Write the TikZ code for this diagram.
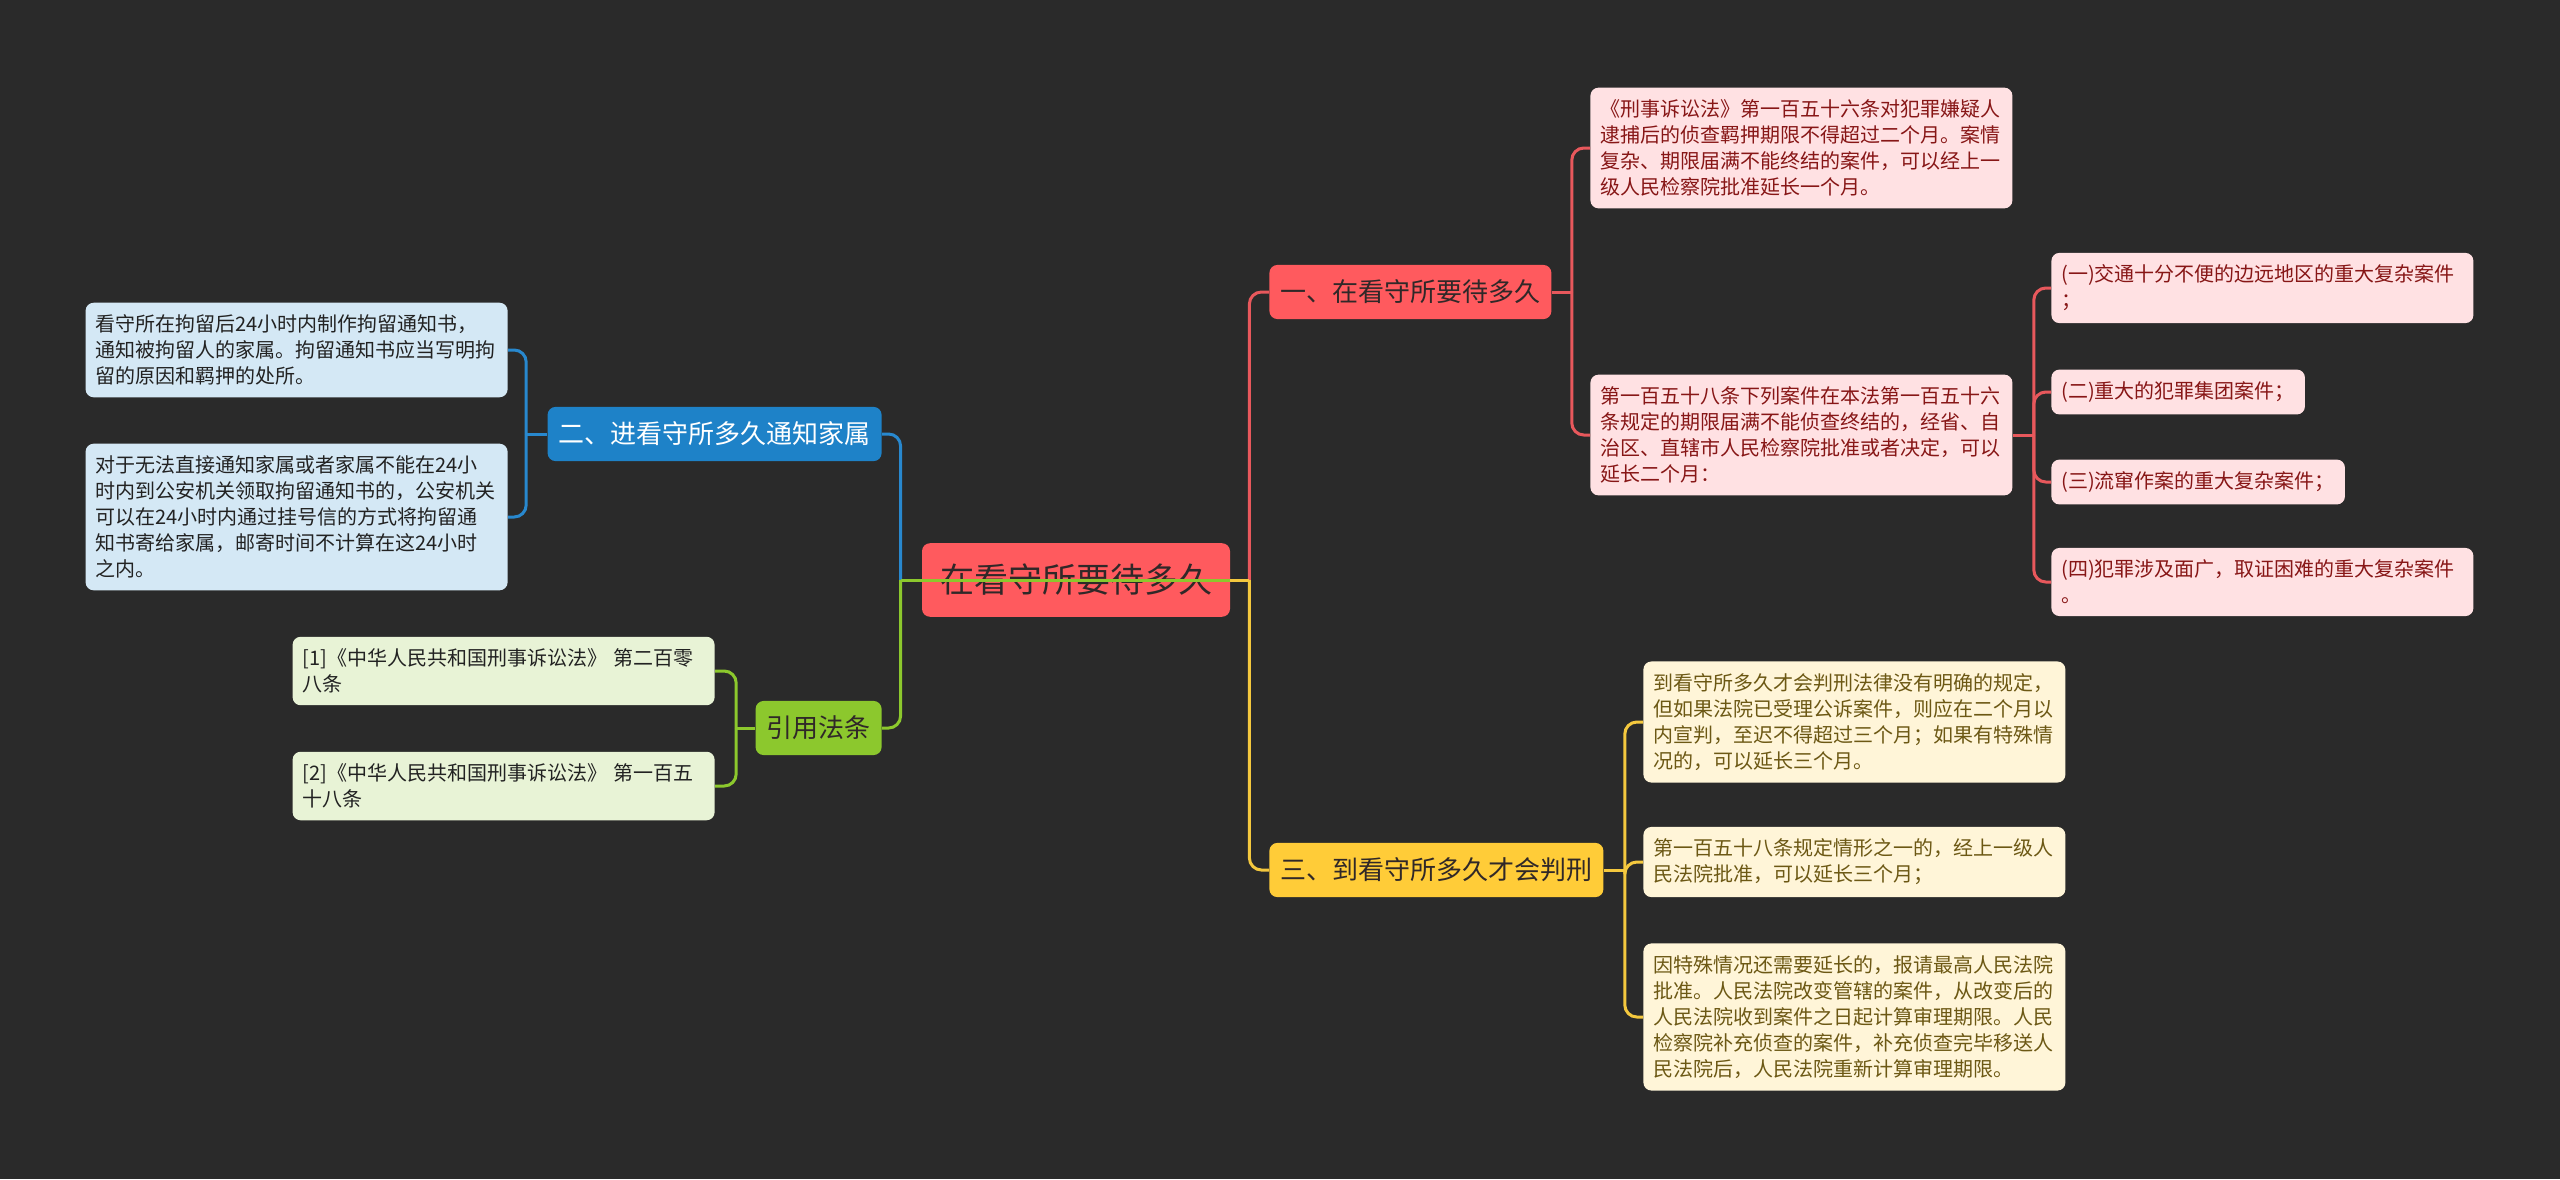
\documentclass[tikz,border=0pt]{standalone}
\usepackage{fontspec}
\setmainfont{Noto Sans CJK SC}
\usetikzlibrary{calc}
\definecolor{MapBack}{RGB}{42,42,42}
\definecolor{MapInk}{RGB}{48,40,40}
\definecolor{MapRed}{RGB}{255,90,94}
\definecolor{MapRedLine}{RGB}{232,88,92}
\definecolor{MapRedLeaf}{RGB}{255,225,227}
\definecolor{MapRedInk}{RGB}{135,22,22}
\definecolor{MapYellow}{RGB}{255,204,56}
\definecolor{MapYellowLine}{RGB}{244,200,62}
\definecolor{MapYellowLeaf}{RGB}{255,245,216}
\definecolor{MapYellowInk}{RGB}{108,88,20}
\definecolor{MapBlue}{RGB}{30,130,200}
\definecolor{MapBlueLine}{RGB}{40,136,206}
\definecolor{MapBlueLeaf}{RGB}{212,232,245}
\definecolor{MapGreen}{RGB}{140,200,45}
\definecolor{MapGreenLine}{RGB}{140,200,45}
\definecolor{MapGreenLeaf}{RGB}{232,243,214}
\definecolor{MapLeafInk}{RGB}{34,34,34}

\begin{document}
\begin{tikzpicture}[
        x=0.5pt,y=-0.5pt,
        hub/.style={fill=MapRed,text=MapInk,rounded corners=4pt,inner xsep=9pt,inner ysep=10.5pt,font=\fontsize{17}{20}\selectfont},
        topic/.style={rounded corners=4pt,inner xsep=5.5pt,inner ysep=7.5pt,font=\fontsize{13}{16}\selectfont},
        leaf/.style={rounded corners=4pt,inner xsep=5pt,inner ysep=6pt,align=left,font=\fontsize{10}{13}\selectfont},
        wide/.style={leaf,text width=201pt},
        redleaf/.style={fill=MapRedLeaf,text=MapRedInk},
        yellowleaf/.style={fill=MapYellowLeaf,text=MapYellowInk},
        blueleaf/.style={fill=MapBlueLeaf,text=MapLeafInk},
        greenleaf/.style={fill=MapGreenLeaf,text=MapLeafInk},
        link/.style={line width=1.5pt,rounded corners=6pt}
      ]
        \fill[MapBack] (0,0) rectangle (2560,1179);
        \useasboundingbox (0,0) rectangle (2560,1179);
        % centre and main topics
        \node[hub] (root) at (1076,580) {在看守所要待多久};
        \node[topic,fill=MapRed,text=MapInk,anchor=west] (stay) at (1269,292) {一、在看守所要待多久};
        \node[topic,fill=MapYellow,text=MapInk,anchor=west] (trial) at (1269,870) {三、到看守所多久才会判刑};
        \node[topic,fill=MapBlue,text=white,anchor=east] (notice) at (882,434) {二、进看守所多久通知家属};
        \node[topic,fill=MapGreen,text=MapInk,anchor=east] (refs) at (882,728) {引用法条};
        % red leaves
        \node[wide,redleaf,anchor=west] (term) at (1590,148) {《刑事诉讼法》第一百五十六条对犯罪嫌疑人\\逮捕后的侦查羁押期限不得超过二个月。案情\\复杂、期限届满不能终结的案件，可以经上一\\级人民检察院批准延长一个月。};
        \node[wide,redleaf,anchor=west] (extend) at (1590,435) {第一百五十八条下列案件在本法第一百五十六\\条规定的期限届满不能侦查终结的，经省、自\\治区、直辖市人民检察院批准或者决定，可以\\延长二个月：};
        \node[wide,redleaf,anchor=west] (case1) at (2051,288) {(一)交通十分不便的边远地区的重大复杂案件\\；};
        \node[leaf,redleaf,anchor=west] (case2) at (2051,392) {(二)重大的犯罪集团案件；};
        \node[leaf,redleaf,anchor=west] (case3) at (2051,482) {(三)流窜作案的重大复杂案件；};
        \node[wide,redleaf,anchor=west] (case4) at (2051,582) {(四)犯罪涉及面广，取证困难的重大复杂案件\\。};
        % yellow leaves
        \node[wide,yellowleaf,anchor=west] (rule) at (1643,722) {到看守所多久才会判刑法律没有明确的规定，\\但如果法院已受理公诉案件，则应在二个月以\\内宣判，至迟不得超过三个月；如果有特殊情\\况的，可以延长三个月。};
        \node[wide,yellowleaf,anchor=west] (upper) at (1643,862) {第一百五十八条规定情形之一的，经上一级人\\民法院批准，可以延长三个月；};
        \node[wide,yellowleaf,anchor=west] (supreme) at (1643,1017) {因特殊情况还需要延长的，报请最高人民法院\\批准。人民法院改变管辖的案件，从改变后的\\人民法院收到案件之日起计算审理期限。人民\\检察院补充侦查的案件，补充侦查完毕移送人\\民法院后，人民法院重新计算审理期限。};
        % blue leaves
        \node[wide,blueleaf,anchor=east] (letter) at (508,350) {看守所在拘留后24小时内制作拘留通知书，\\通知被拘留人的家属。拘留通知书应当写明拘\\留的原因和羁押的处所。};
        \node[wide,blueleaf,anchor=east] (mail) at (508,517) {对于无法直接通知家属或者家属不能在24小\\时内到公安机关领取拘留通知书的，公安机关\\可以在24小时内通过挂号信的方式将拘留通\\知书寄给家属，邮寄时间不计算在这24小时\\之内。};
        % green leaves
        \node[wide,greenleaf,anchor=east] (law1) at (715,671) {[1]《中华人民共和国刑事诉讼法》 第二百零\\八条};
        \node[wide,greenleaf,anchor=east] (law2) at (715,786) {[2]《中华人民共和国刑事诉讼法》 第一百五\\十八条};
        % bus points
        \coordinate (rbus) at ($(root.east)+(19,0)$);
        \coordinate (lbus) at ($(root.west)+(-21,0)$);
        \coordinate (staybus) at ($(stay.east)+(20,0)$);
        \coordinate (extendbus) at ($(extend.east)+(21,0)$);
        \coordinate (trialbus) at ($(trial.east)+(21,0)$);
        \coordinate (noticebus) at ($(notice.west)+(-21,0)$);
        \coordinate (refsbus) at ($(refs.west)+(-19,0)$);
        % connectors
        \draw[link,MapRedLine] (rbus) |- (stay.west);
        \draw[link,MapYellowLine] (rbus) |- (trial.west);
        \draw[link,MapYellowLine] (root.east) -- (rbus);
        \draw[link,MapBlueLine] (lbus) |- (notice.east);
        \draw[link,MapGreenLine] (lbus) |- (refs.east);
        \draw[link,MapGreenLine] (root.east) -- (lbus);
        \draw[link,MapRedLine] (stay.east) -- (staybus);
        \draw[link,MapRedLine] (staybus) |- (term.west);
        \draw[link,MapRedLine] (staybus) |- (extend.west);
        \draw[link,MapRedLine] (extend.east) -- (extendbus);
        \draw[link,MapRedLine] (extendbus) |- (case1.west);
        \draw[link,MapRedLine] (extendbus) |- (case2.west);
        \draw[link,MapRedLine] (extendbus) |- (case3.west);
        \draw[link,MapRedLine] (extendbus) |- (case4.west);
        \draw[link,MapYellowLine] (trial.east) -- (trialbus);
        \draw[link,MapYellowLine] (trialbus) |- (rule.west);
        \draw[link,MapYellowLine] (trialbus) |- (upper.west);
        \draw[link,MapYellowLine] (trialbus) |- (supreme.west);
        \draw[link,MapBlueLine] (notice.west) -- (noticebus);
        \draw[link,MapBlueLine] (noticebus) |- (letter.east);
        \draw[link,MapBlueLine] (noticebus) |- (mail.east);
        \draw[link,MapGreenLine] (refs.west) -- (refsbus);
        \draw[link,MapGreenLine] (refsbus) |- (law1.east);
        \draw[link,MapGreenLine] (refsbus) |- (law2.east);
      \end{tikzpicture}
\end{document}
